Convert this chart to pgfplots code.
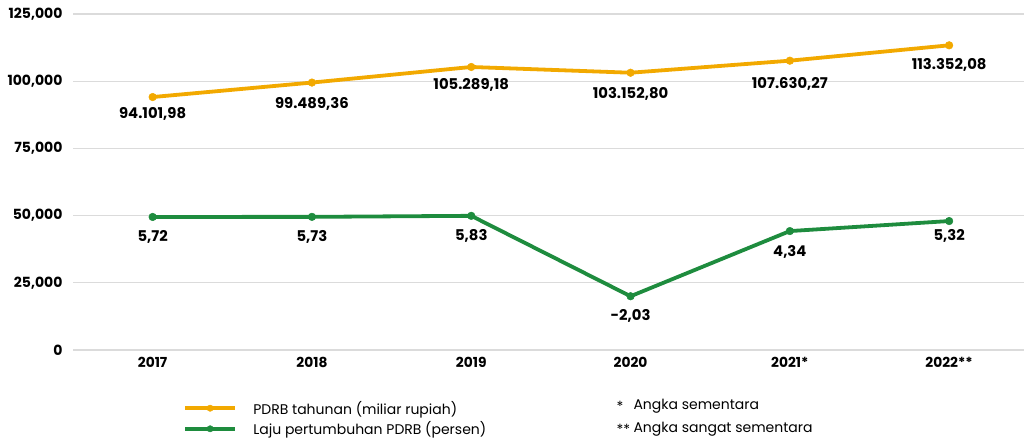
\documentclass[border=0pt]{standalone}
\usepackage{fontspec}
\setmainfont{Poppins}
\usepackage{pgfplots}
\pgfplotsset{compat=1.18}
\definecolor{pdrbgold}{HTML}{F2A900}
\definecolor{lajugreen}{HTML}{1E8C3E}

\begin{document}
\begin{tikzpicture}[x=1pt,y=1pt]
\useasboundingbox (0,0) rectangle (1024,439);
\tikzset{lbl/.style={font=\bfseries\fontsize{14.8}{16}\selectfont}}
% primary axis: PDRB tahunan
\begin{axis}[
  at={(73pt,89pt)}, anchor=south west,
  scale only axis, width=951pt, height=336pt,
  xmin=-0.5, xmax=5.47, ymin=0, ymax=125000,
  xtick={0,1,2,3,4,5},
  xticklabels={2017,2018,2019,2020,2021*,2022**},
  ytick={0,25000,50000,75000,100000,125000},
  yticklabels={0,{25,000},{50,000},{75,000},{100,000},{125,000}},
  scaled y ticks=false,
  yticklabel style={font=\bfseries\fontsize{14}{15}\selectfont, xshift=-7pt},
  xticklabel style={font=\bfseries\fontsize{13.8}{15}\selectfont, yshift=-4pt},
  axis line style={draw=none}, tick style={draw=none},
  ymajorgrids, major grid style={draw=black!14, line width=1.2pt},
  clip=false,
  legend style={at={(0.1157,-0.145)}, anchor=north west, draw=none, fill=none,
    font=\fontsize{14}{16}\selectfont, row sep=2pt, inner sep=0pt},
  legend cell align=left,
  legend image code/.code={%
    \draw[line width=3.8pt] (0pt,0pt) -- (50pt,0pt);
    \fill (25pt,0pt) circle (3.2pt);
    \path (66pt,0pt);},
]
\addplot[forget plot, color=pdrbgold, line width=3.8pt, mark=*, mark size=3.8pt, mark options={line width=0.5pt}]
  coordinates {(0,94101.98) (1,99489.36) (2,105289.18) (3,103152.80) (4,107630.27) (5,113352.08)};
\addlegendimage{color=pdrbgold}
\addlegendentry{PDRB tahunan (miliar rupiah)}
\addlegendimage{color=lajugreen}
\addlegendentry{Laju pertumbuhan PDRB (persen)}
\node[lbl, yshift=-17pt] at (axis cs:0,94101.98) {94.101,98};
\node[lbl, yshift=-21pt] at (axis cs:1,99489.36) {99.489,36};
\node[lbl, yshift=-18pt] at (axis cs:2,105289.18) {105.289,18};
\node[lbl, yshift=-21pt] at (axis cs:3,103152.80) {103.152,80};
\node[lbl, yshift=-23pt] at (axis cs:4,107630.27) {107.630,27};
\node[lbl, yshift=-20pt] at (axis cs:5,113352.08) {113.352,08};
\end{axis}
% secondary (hidden) axis: laju pertumbuhan
\begin{axis}[
  at={(73pt,89pt)}, anchor=south west,
  scale only axis, width=951pt, height=336pt,
  xmin=-0.5, xmax=5.47, ymin=-7.285, ymax=25.56,
  hide axis, clip=false,
]
\addplot[color=lajugreen, line width=3.8pt, mark=*, mark size=3.8pt, mark options={line width=0.5pt}]
  coordinates {(0,5.72) (1,5.73) (2,5.83) (3,-2.03) (4,4.34) (5,5.32)};
\node[lbl, yshift=-20pt] at (axis cs:0,5.72) {5,72};
\node[lbl, yshift=-20pt] at (axis cs:1,5.73) {5,73};
\node[lbl, yshift=-20pt] at (axis cs:2,5.83) {5,83};
\node[lbl, yshift=-20pt] at (axis cs:3,-2.03) {-2,03};
\node[lbl, yshift=-21pt] at (axis cs:4,4.34) {4,34};
\node[lbl, yshift=-15pt] at (axis cs:5,5.32) {5,32};
\end{axis}
\node[anchor=west, font=\fontsize{14}{16}\selectfont] at (613,33) {*};
\node[anchor=west, font=\fontsize{14}{16}\selectfont] at (630,33) {Angka sementara};
\node[anchor=west, font=\fontsize{14}{16}\selectfont] at (613,10) {**};
\node[anchor=west, font=\fontsize{14}{16}\selectfont] at (630,10) {Angka sangat sementara};
\end{tikzpicture}
\end{document}
